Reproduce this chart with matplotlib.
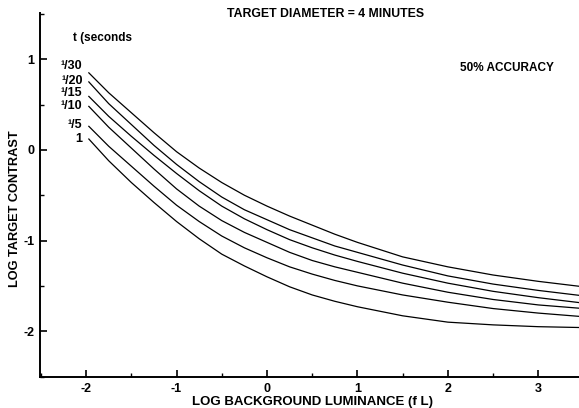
"""Target contrast threshold vs background luminance, 4 minute target"""

import numpy as np
import matplotlib.pyplot as plt
from matplotlib.ticker import MultipleLocator

plt.rcParams["font.family"] = ["Liberation Sans", "DejaVu Sans"]
plt.rcParams["font.weight"] = "bold"
plt.rcParams["axes.unicode_minus"] = False

# log background luminance (fL)
log_lum = [-1.97, -1.75, -1.5, -1.25, -1.0, -0.75, -0.5, -0.25, 0.0, 0.25, 0.5, 0.75,
           1.0, 1.5, 2.0, 2.5, 3.0, 3.5]

# log target contrast, one curve per exposure time
t_1_30 = [0.85, 0.63, 0.41, 0.19, -0.02, -0.20, -0.36, -0.50, -0.62, -0.73, -0.83, -0.93,
          -1.02, -1.18, -1.29, -1.38, -1.45, -1.51]
t_1_20 = [0.75, 0.51, 0.28, 0.05, -0.16, -0.35, -0.52, -0.66, -0.77, -0.88, -0.97, -1.06,
          -1.13, -1.27, -1.39, -1.48, -1.55, -1.61]
t_1_15 = [0.59, 0.37, 0.15, -0.06, -0.26, -0.45, -0.62, -0.76, -0.88, -0.99, -1.08, -1.16,
          -1.23, -1.36, -1.47, -1.56, -1.63, -1.69]
t_1_10 = [0.48, 0.25, 0.02, -0.21, -0.43, -0.62, -0.78, -0.91, -1.02, -1.13, -1.22, -1.29,
          -1.35, -1.47, -1.57, -1.65, -1.71, -1.75]
t_1_5 = [0.26, 0.04, -0.18, -0.40, -0.61, -0.79, -0.95, -1.08, -1.19, -1.29, -1.37, -1.44,
         -1.50, -1.60, -1.68, -1.75, -1.80, -1.84]
t_1 = [0.12, -0.12, -0.36, -0.58, -0.79, -0.98, -1.15, -1.28, -1.40, -1.51, -1.60, -1.67,
       -1.73, -1.83, -1.90, -1.93, -1.95, -1.96]

curves = [t_1_30, t_1_20, t_1_15, t_1_10, t_1_5, t_1]
curve_labels = ["¹/30", "¹/20", "¹/15", "¹/10", "¹/5", "1"]
label_y = [0.92, 0.76, 0.63, 0.48, 0.28, 0.12]

fig = plt.figure(figsize=(5.79, 4.08), dpi=100)
ax = fig.add_axes([40 / 579, 1 - 377 / 408, 1 - 40 / 579, (377 - 13) / 408])

for vals in curves:
    ax.plot(log_lum, vals, color="black", linewidth=0.9)

for lab, yy in zip(curve_labels, label_y):
    ax.text(-2.04, yy, lab, ha="right", va="center", fontsize=9, fontweight="bold")

ax.text(-2.15, 1.23, "t (seconds", ha="left", va="center", fontsize=8.5, fontweight="bold")
ax.text(2.65, 0.9, "50% ACCURACY", ha="center", va="center", fontsize=8.5, fontweight="bold")
fig.text(326 / 579, 1 - 14 / 408, "TARGET DIAMETER = 4 MINUTES", ha="center", va="center",
         fontsize=8.8, fontweight="bold")

ax.set_xlim(-2.51, 3.45)
ax.set_ylim(-2.505, 1.51)

ax.xaxis.set_major_locator(MultipleLocator(1))
ax.xaxis.set_minor_locator(MultipleLocator(0.5))
ax.yaxis.set_major_locator(MultipleLocator(1))
ax.yaxis.set_minor_locator(MultipleLocator(0.5))
ax.tick_params(which="major", direction="in", length=5, width=1.2, labelsize=9, pad=4)
ax.tick_params(which="minor", direction="in", length=3, width=1.0)
for lbl in ax.get_xticklabels() + ax.get_yticklabels():
    lbl.set_fontweight("bold")

ax.spines["top"].set_visible(False)
ax.spines["right"].set_visible(False)
ax.spines["left"].set_linewidth(1.4)
ax.spines["bottom"].set_linewidth(1.4)

fig.text(313 / 579, 1 - 402 / 408, "LOG BACKGROUND LUMINANCE (f L)", ha="center", va="center",
         fontsize=9.5, fontweight="bold")
fig.text(15 / 579, 1 - 209 / 408, "LOG TARGET CONTRAST", ha="center", va="center",
         rotation=90, fontsize=9.2, fontweight="bold")

fig.savefig("out.png", dpi=100)
